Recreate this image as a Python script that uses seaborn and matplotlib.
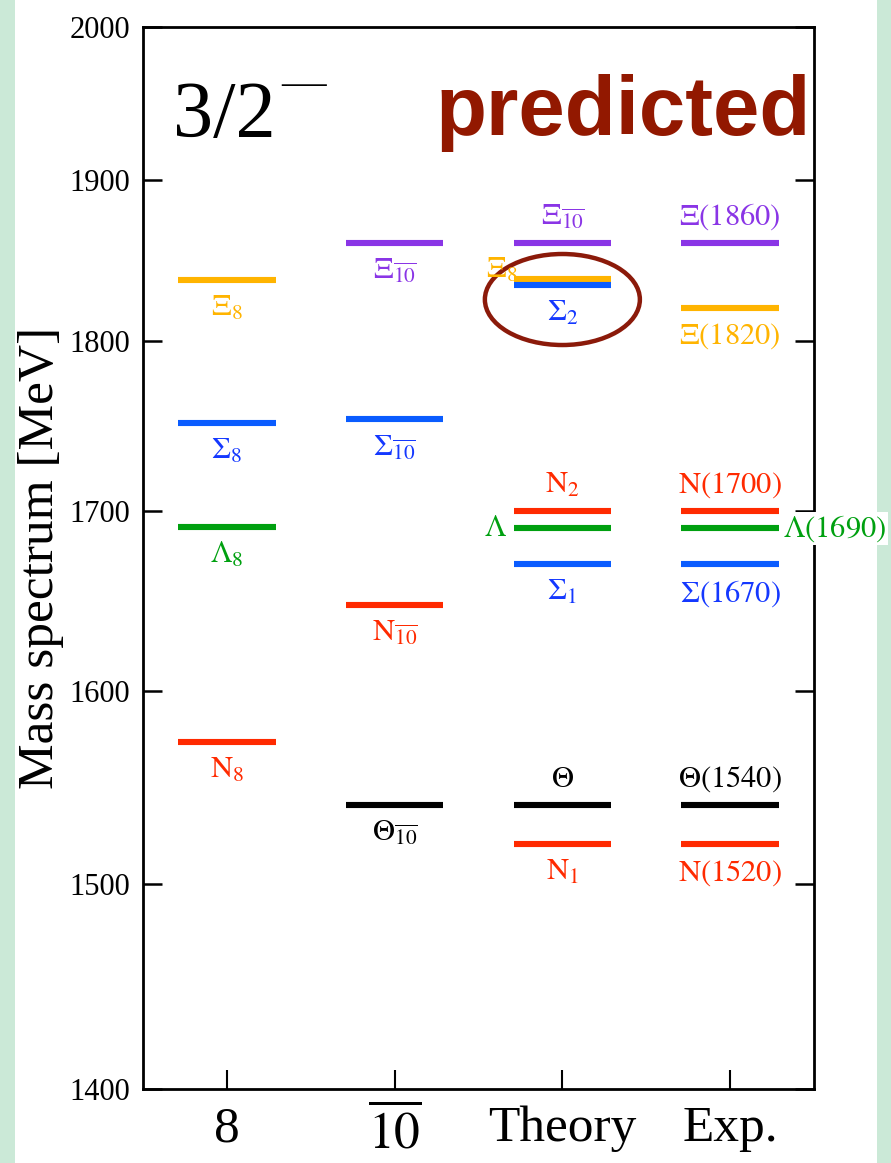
import matplotlib
matplotlib.use("Agg")
import matplotlib.pyplot as plt
from matplotlib.patches import Ellipse, Rectangle
from matplotlib.ticker import NullLocator
import seaborn as sns

# ---- data -------------------------------------------------------------
columns = ["8", r"$\overline{10}$", "Theory", "Exp."]

octet_mass = [1837, 1751, 1691, 1573]
octet_label = [r"$\Xi_8$", r"$\Sigma_8$", r"$\Lambda_8$", r"$N_8$"]
octet_kind = ["Xi8", "Sigma", "Lambda", "N"]

anti_mass = [1860, 1753, 1647, 1540]
anti_label = [r"$\Xi_{\overline{10}}$", r"$\Sigma_{\overline{10}}$",
              r"$N_{\overline{10}}$", r"$\Theta_{\overline{10}}$"]
anti_kind = ["Xi10", "Sigma", "N", "Theta"]

theory_mass = [1860, 1838, 1834, 1700, 1690, 1670, 1540, 1520]
theory_label = [r"$\Xi_{\overline{10}}$", r"$\Xi_8$", r"$\Sigma_2$", r"$N_2$",
                r"$\Lambda$", r"$\Sigma_1$", r"$\Theta$", r"$N_1$"]
theory_kind = ["Xi10", "Xi8", "Sigma", "N", "Lambda", "Sigma", "Theta", "N"]

exp_mass = [1860, 1820, 1700, 1690, 1670, 1540, 1520]
exp_label = [r"$\Xi(1860)$", r"$\Xi(1820)$", r"$N(1700)$", r"$\Lambda(1690)$",
             r"$\Sigma(1670)$", r"$\Theta(1540)$", r"$N(1520)$"]
exp_kind = ["Xi10", "Xi8", "N", "Lambda", "Sigma", "Theta", "N"]

y_ticks = [1400, 1500, 1600, 1700, 1800, 1900, 2000]

# ---- label placement ----------------------------------------------------
octet_place = ["below", "below", "below", "below"]
anti_place = ["below", "below", "below", "below"]
theory_place = ["above", "left_up", "below", "above", "left", "below", "above", "below"]
exp_place = ["above", "below", "above", "right", "below", "above", "below"]

palette = {
    "Xi10": "#8a35e6",
    "Xi8": "#ffb400",
    "Sigma": "#0a5cff",
    "Lambda": "#00a010",
    "N": "#ff2a00",
    "Theta": "#000000",
}
label_palette = dict(palette, Sigma="#1438ff")

# ---- style --------------------------------------------------------------
sns.set_theme(style="white")
SERIF = ["Liberation Serif", "DejaVu Serif"]
plt.rcParams["font.family"] = SERIF
plt.rcParams["mathtext.fontset"] = "stix"
plt.rcParams["mathtext.default"] = "rm"

fig = plt.figure(figsize=(8.91, 11.63), dpi=100)
fig.patch.set_facecolor("#cbe9d7")
fig.add_artist(Rectangle((15 / 891, 0), (877 - 15) / 891, 1,
                         transform=fig.transFigure, facecolor="white",
                         edgecolor="none", zorder=0))
ax = fig.add_axes([143 / 891, 1 - 1089 / 1163, (814 - 143) / 891, (1089 - 27) / 1163])
ax.set_facecolor("white")

HALF = 0.29
columns_data = [
    (1, octet_mass, octet_label, octet_kind, octet_place),
    (2, anti_mass, anti_label, anti_kind, anti_place),
    (3, theory_mass, theory_label, theory_kind, theory_place),
    (4, exp_mass, exp_label, exp_kind, exp_place),
]

for xc, masses, labels, kinds, places in columns_data:
    for m, lab, k, p in zip(masses, labels, kinds, places):
        ax.hlines(m, xc - HALF, xc + HALF, colors=palette[k], linewidth=4.4, zorder=3)
        tc = label_palette[k]
        kw = dict(textcoords="offset points", color=tc, fontsize=22,
                  zorder=10, annotation_clip=False)
        if p == "above":
            ax.annotate(lab, (xc, m), xytext=(0, 8), ha="center", va="bottom", **kw)
        elif p == "below":
            ax.annotate(lab, (xc, m), xytext=(0, -10), ha="center", va="top", **kw)
        elif p == "left":
            ax.annotate(lab, (xc - HALF, m), xytext=(-5, 0), ha="right", va="center", **kw)
        elif p == "left_up":
            ax.annotate(lab, (xc - HALF, m), xytext=(3, 6), ha="right", va="center", **kw)
        elif p == "right":
            ax.annotate(lab, (xc + HALF, m), xytext=(3, 0), ha="left", va="center",
                        bbox=dict(facecolor="white", edgecolor="none", pad=1), **kw)

# ---- axes ---------------------------------------------------------------
ax.set_yscale("log")
ax.set_ylim(1400, 2000)
ax.set_xlim(0.5, 4.5)
ax.set_yticks(y_ticks, labels=[str(t) for t in y_ticks], fontfamily=SERIF)
ax.yaxis.set_minor_locator(NullLocator())
ax.set_xticks([1, 2, 3, 4], labels=columns, fontfamily=SERIF)

ax.tick_params(axis="y", which="major", direction="in", length=14, width=1.8,
               left=True, right=True, labelsize=22, pad=9, colors="black")
ax.tick_params(axis="x", which="major", direction="in", length=14, width=1.5,
               bottom=True, top=False, labelsize=37, pad=12, colors="black")
for s in ax.spines.values():
    s.set_visible(True)
    s.set_color("black")
    s.set_linewidth(2.0)

ax.set_ylabel("Mass spectrum [MeV]", fontsize=37, labelpad=4, color="black",
              fontfamily=SERIF)

# ---- headline texts -----------------------------------------------------
ax.text(0.045, 0.896, "3/2", transform=ax.transAxes, fontsize=58, fontfamily=SERIF,
        ha="left", va="baseline", color="black")
ax.text(0.24, 0.946, "\u2014", transform=ax.transAxes, fontsize=32, fontfamily=SERIF,
        ha="center", va="center", color="black")
ax.text(0.995, 0.898, "predicted", transform=ax.transAxes, fontsize=60,
        fontweight="bold", fontfamily="Liberation Sans", ha="right", va="baseline",
        color="#921800")

# highlight around the nearly degenerate Xi_8 / Sigma_2 pair
ax.add_patch(Ellipse((0.625, 0.7434), 0.231, 0.0857, transform=ax.transAxes,
                     facecolor="none", edgecolor="#8b1a0a", linewidth=3.2, zorder=4))

fig.savefig("out.png", dpi=100, facecolor=fig.get_facecolor())
